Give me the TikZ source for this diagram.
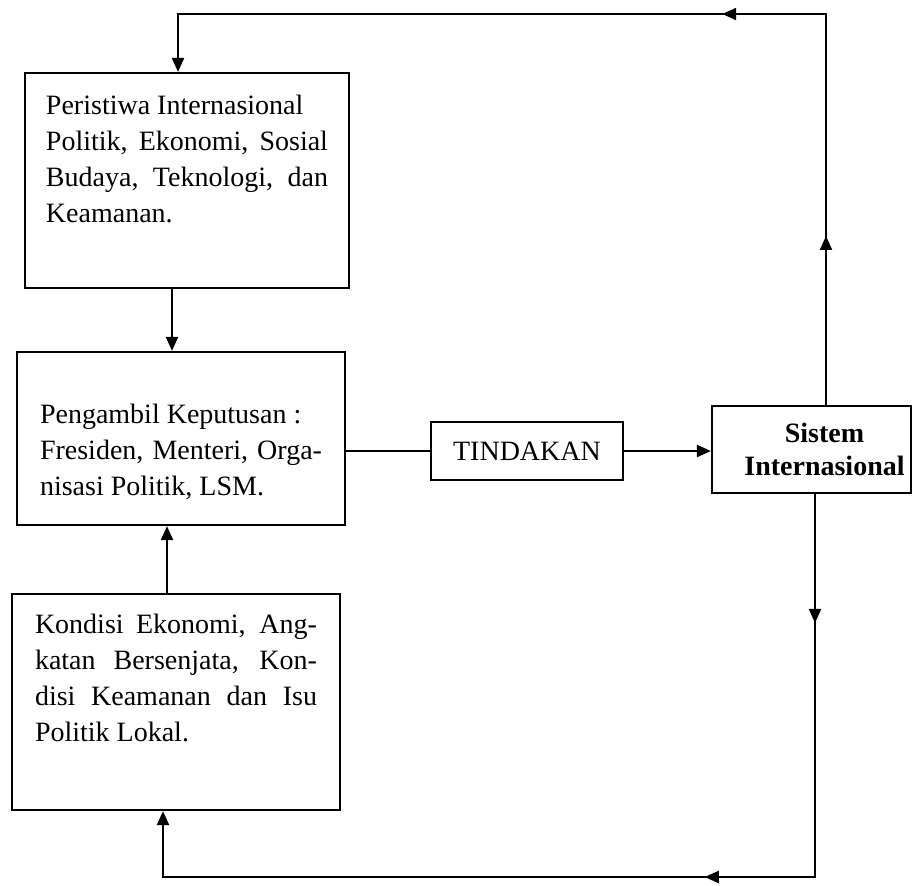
\documentclass[tikz,border=0pt]{standalone}
\usepackage{fontspec}
\setmainfont{Liberation Serif}
\usetikzlibrary{arrows.meta,positioning,calc,decorations.markings}
\hbadness=10000

\begin{document}
\begin{tikzpicture}[x=0.5pt, y=-0.5pt,
    infobox/.style={draw, line width=1.1pt, inner sep=0pt, font=\fontsize{14}{18}\selectfont},
    link/.style={line width=1.1pt},
    arrowlink/.style={line width=1.1pt, -{Triangle[length=7pt, width=6pt]}},
    twomarks/.style 2 args={postaction={decorate}, decoration={markings,
        mark=at position #1 with {\arrow{Triangle[length=7pt, width=6pt]}},
        mark=at position #2 with {\arrow{Triangle[length=7pt, width=6pt]}}}}]
\useasboundingbox (0,0) rectangle (915,885);

% Boxes on the left
\node[infobox, minimum width=162pt, minimum height=107.5pt] (peristiwa) at (187,180.5)
    {\parbox[c][107.5pt][t]{141pt}{\vspace*{11pt}Peristiwa Internasional\\
    Politik, Ekonomi, Sosial\linebreak Budaya, Teknologi, dan\linebreak Keamanan.}};
\node[infobox, minimum width=164pt, minimum height=86.5pt] (pengambil) at (181,438.5)
    {\parbox[c][86.5pt][t]{141pt}{\vspace*{26pt}Pengambil Keputusan :\\
    Fresiden, Menteri, Orga-\linebreak nisasi Politik, LSM.}};
\node[infobox, minimum width=164pt, minimum height=108pt] (kondisi) at (176,702)
    {\parbox[c][108pt][t]{141pt}{\vspace*{10pt}Kondisi Ekonomi, Ang-\linebreak
    katan Bersenjata, Kon-\linebreak disi Keamanan dan Isu\linebreak Politik Lokal.}};

% Action and system
\node[infobox, minimum width=96pt, minimum height=29pt] (tindakan) at (527,451) {TINDAKAN};
\node[infobox, minimum width=99.5pt, minimum height=43.5pt, align=center,
    font=\fontsize{14}{16.5}\selectfont\bfseries] (sistem) at (811.5,449.5)
    {\hspace*{13pt}Sistem\\ \hspace*{13pt}Internasional};

% Corners of the feedback loops
\coordinate (topright) at (826,14);
\coordinate (botright) at (815,877);

% Arrows between boxes
\draw[arrowlink] ([xshift=-7.5pt]peristiwa.south) -- ([xshift=-7.5pt]peristiwa.south |- pengambil.north);
\draw[arrowlink] ([xshift=-4.5pt]kondisi.north) -- ([xshift=-4.5pt]kondisi.north |- pengambil.south);
\draw[link] (tindakan.west -| pengambil.east) -- (tindakan.west);
\draw[arrowlink] (tindakan.east) -- (tindakan.east -| sistem.west);

% Feedback loops
\draw[arrowlink, twomarks={0.154}{0.451}] (sistem.north -| topright) -- (topright) -| ([xshift=-4.5pt]peristiwa.north);
\draw[arrowlink, twomarks={0.117}{0.448}] (sistem.south -| botright) -- (botright) -| ([xshift=-6.5pt]kondisi.south);
\end{tikzpicture}
\end{document}
